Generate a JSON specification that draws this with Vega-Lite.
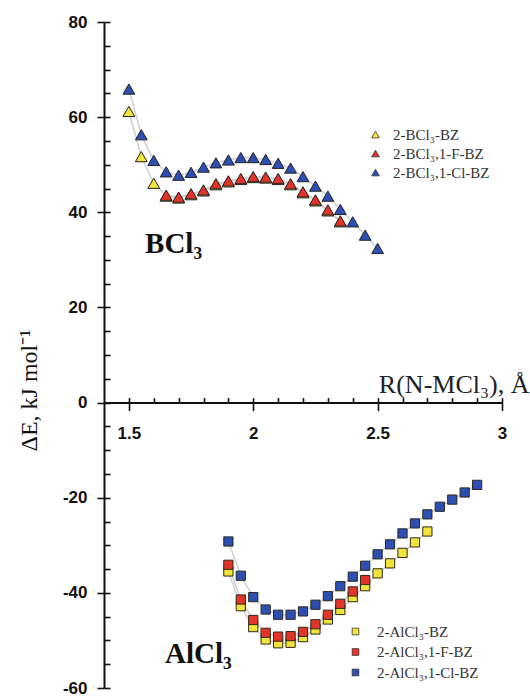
{
  "$schema": "https://vega.github.io/schema/vega-lite/v6.json",
  "autosize": {"type": "none"},
  "padding": {"left": 104, "top": 22, "right": 28, "bottom": 10},
  "width": 398,
  "height": 666,
  "background": "white",
  "config": {"view": {"stroke": null}},
  "datasets": {
    "bcl": [
      {"s": "2-BCl₃-BZ", "x": 1.5, "y": 61.2}, {"s": "2-BCl₃-BZ", "x": 1.55, "y": 51.7}, {"s": "2-BCl₃-BZ", "x": 1.6, "y": 46.1},
      {"s": "2-BCl₃-BZ", "x": 1.65, "y": 43.4}, {"s": "2-BCl₃-BZ", "x": 1.7, "y": 43.0}, {"s": "2-BCl₃-BZ", "x": 1.75, "y": 43.7},
      {"s": "2-BCl₃-BZ", "x": 1.8, "y": 44.5}, {"s": "2-BCl₃-BZ", "x": 1.85, "y": 45.8}, {"s": "2-BCl₃-BZ", "x": 1.9, "y": 46.4},
      {"s": "2-BCl₃-BZ", "x": 1.95, "y": 46.9}, {"s": "2-BCl₃-BZ", "x": 2.0, "y": 47.3}, {"s": "2-BCl₃-BZ", "x": 2.05, "y": 47.2},
      {"s": "2-BCl₃-BZ", "x": 2.1, "y": 46.9}, {"s": "2-BCl₃-BZ", "x": 2.15, "y": 45.8}, {"s": "2-BCl₃-BZ", "x": 2.2, "y": 44.1},
      {"s": "2-BCl₃-BZ", "x": 2.25, "y": 42.4}, {"s": "2-BCl₃-BZ", "x": 2.3, "y": 40.3}, {"s": "2-BCl₃-BZ", "x": 2.35, "y": 38.0},
      {"s": "2-BCl₃,1-F-BZ", "x": 1.65, "y": 43.6}, {"s": "2-BCl₃,1-F-BZ", "x": 1.7, "y": 43.2}, {"s": "2-BCl₃,1-F-BZ", "x": 1.75, "y": 43.9},
      {"s": "2-BCl₃,1-F-BZ", "x": 1.8, "y": 44.7}, {"s": "2-BCl₃,1-F-BZ", "x": 1.85, "y": 46.0}, {"s": "2-BCl₃,1-F-BZ", "x": 1.9, "y": 46.6},
      {"s": "2-BCl₃,1-F-BZ", "x": 1.95, "y": 47.1}, {"s": "2-BCl₃,1-F-BZ", "x": 2.0, "y": 47.5}, {"s": "2-BCl₃,1-F-BZ", "x": 2.05, "y": 47.4},
      {"s": "2-BCl₃,1-F-BZ", "x": 2.1, "y": 47.1}, {"s": "2-BCl₃,1-F-BZ", "x": 2.15, "y": 46.0}, {"s": "2-BCl₃,1-F-BZ", "x": 2.2, "y": 44.3},
      {"s": "2-BCl₃,1-F-BZ", "x": 2.25, "y": 42.6}, {"s": "2-BCl₃,1-F-BZ", "x": 2.3, "y": 40.5}, {"s": "2-BCl₃,1-F-BZ", "x": 2.35, "y": 38.2},
      {"s": "2-BCl₃,1-Cl-BZ", "x": 1.5, "y": 65.9}, {"s": "2-BCl₃,1-Cl-BZ", "x": 1.55, "y": 56.3}, {"s": "2-BCl₃,1-Cl-BZ", "x": 1.6, "y": 50.9},
      {"s": "2-BCl₃,1-Cl-BZ", "x": 1.65, "y": 48.5}, {"s": "2-BCl₃,1-Cl-BZ", "x": 1.7, "y": 47.8}, {"s": "2-BCl₃,1-Cl-BZ", "x": 1.75, "y": 48.4},
      {"s": "2-BCl₃,1-Cl-BZ", "x": 1.8, "y": 49.5}, {"s": "2-BCl₃,1-Cl-BZ", "x": 1.85, "y": 50.4}, {"s": "2-BCl₃,1-Cl-BZ", "x": 1.9, "y": 51.0},
      {"s": "2-BCl₃,1-Cl-BZ", "x": 1.95, "y": 51.5}, {"s": "2-BCl₃,1-Cl-BZ", "x": 2.0, "y": 51.5}, {"s": "2-BCl₃,1-Cl-BZ", "x": 2.05, "y": 51.1},
      {"s": "2-BCl₃,1-Cl-BZ", "x": 2.1, "y": 50.3}, {"s": "2-BCl₃,1-Cl-BZ", "x": 2.15, "y": 49.3}, {"s": "2-BCl₃,1-Cl-BZ", "x": 2.2, "y": 47.5},
      {"s": "2-BCl₃,1-Cl-BZ", "x": 2.25, "y": 45.5}, {"s": "2-BCl₃,1-Cl-BZ", "x": 2.3, "y": 43.4}, {"s": "2-BCl₃,1-Cl-BZ", "x": 2.35, "y": 40.6},
      {"s": "2-BCl₃,1-Cl-BZ", "x": 2.4, "y": 38.0}, {"s": "2-BCl₃,1-Cl-BZ", "x": 2.45, "y": 35.2}, {"s": "2-BCl₃,1-Cl-BZ", "x": 2.5, "y": 32.4}
    ],
    "alcl": [
      {"s": "2-AlCl₃-BZ", "x": 1.9, "y": -35.5}, {"s": "2-AlCl₃-BZ", "x": 1.95, "y": -42.8}, {"s": "2-AlCl₃-BZ", "x": 2.0, "y": -47.2},
      {"s": "2-AlCl₃-BZ", "x": 2.05, "y": -49.8}, {"s": "2-AlCl₃-BZ", "x": 2.1, "y": -50.6}, {"s": "2-AlCl₃-BZ", "x": 2.15, "y": -50.5},
      {"s": "2-AlCl₃-BZ", "x": 2.2, "y": -49.3}, {"s": "2-AlCl₃-BZ", "x": 2.25, "y": -47.7}, {"s": "2-AlCl₃-BZ", "x": 2.3, "y": -45.6},
      {"s": "2-AlCl₃-BZ", "x": 2.35, "y": -43.6}, {"s": "2-AlCl₃-BZ", "x": 2.4, "y": -40.9}, {"s": "2-AlCl₃-BZ", "x": 2.45, "y": -38.6},
      {"s": "2-AlCl₃-BZ", "x": 2.5, "y": -35.9}, {"s": "2-AlCl₃-BZ", "x": 2.55, "y": -33.8}, {"s": "2-AlCl₃-BZ", "x": 2.6, "y": -31.6},
      {"s": "2-AlCl₃-BZ", "x": 2.65, "y": -29.4}, {"s": "2-AlCl₃-BZ", "x": 2.7, "y": -27.1},
      {"s": "2-AlCl₃,1-F-BZ", "x": 1.9, "y": -34.1}, {"s": "2-AlCl₃,1-F-BZ", "x": 1.95, "y": -41.4}, {"s": "2-AlCl₃,1-F-BZ", "x": 2.0, "y": -45.7},
      {"s": "2-AlCl₃,1-F-BZ", "x": 2.05, "y": -48.4}, {"s": "2-AlCl₃,1-F-BZ", "x": 2.1, "y": -49.2}, {"s": "2-AlCl₃,1-F-BZ", "x": 2.15, "y": -49.1},
      {"s": "2-AlCl₃,1-F-BZ", "x": 2.2, "y": -48.2}, {"s": "2-AlCl₃,1-F-BZ", "x": 2.25, "y": -46.6}, {"s": "2-AlCl₃,1-F-BZ", "x": 2.3, "y": -44.6},
      {"s": "2-AlCl₃,1-F-BZ", "x": 2.35, "y": -42.3}, {"s": "2-AlCl₃,1-F-BZ", "x": 2.4, "y": -39.7}, {"s": "2-AlCl₃,1-F-BZ", "x": 2.45, "y": -37.3},
      {"s": "2-AlCl₃,1-Cl-BZ", "x": 1.9, "y": -29.2}, {"s": "2-AlCl₃,1-Cl-BZ", "x": 1.95, "y": -36.4}, {"s": "2-AlCl₃,1-Cl-BZ", "x": 2.0, "y": -40.9},
      {"s": "2-AlCl₃,1-Cl-BZ", "x": 2.05, "y": -43.5}, {"s": "2-AlCl₃,1-Cl-BZ", "x": 2.1, "y": -44.6}, {"s": "2-AlCl₃,1-Cl-BZ", "x": 2.15, "y": -44.6},
      {"s": "2-AlCl₃,1-Cl-BZ", "x": 2.2, "y": -43.9}, {"s": "2-AlCl₃,1-Cl-BZ", "x": 2.25, "y": -42.5}, {"s": "2-AlCl₃,1-Cl-BZ", "x": 2.3, "y": -40.7},
      {"s": "2-AlCl₃,1-Cl-BZ", "x": 2.35, "y": -38.6}, {"s": "2-AlCl₃,1-Cl-BZ", "x": 2.4, "y": -36.6}, {"s": "2-AlCl₃,1-Cl-BZ", "x": 2.45, "y": -34.3},
      {"s": "2-AlCl₃,1-Cl-BZ", "x": 2.5, "y": -31.9}, {"s": "2-AlCl₃,1-Cl-BZ", "x": 2.55, "y": -29.8}, {"s": "2-AlCl₃,1-Cl-BZ", "x": 2.6, "y": -27.5},
      {"s": "2-AlCl₃,1-Cl-BZ", "x": 2.65, "y": -25.4}, {"s": "2-AlCl₃,1-Cl-BZ", "x": 2.7, "y": -23.5}, {"s": "2-AlCl₃,1-Cl-BZ", "x": 2.75, "y": -21.9},
      {"s": "2-AlCl₃,1-Cl-BZ", "x": 2.8, "y": -20.4}, {"s": "2-AlCl₃,1-Cl-BZ", "x": 2.85, "y": -18.9}, {"s": "2-AlCl₃,1-Cl-BZ", "x": 2.9, "y": -17.3}
    ],
    "tags": [
      {"t": "BCl₃", "x": 1.565, "y": 31.4},
      {"t": "AlCl₃", "x": 1.645, "y": -54.7}
    ],
    "xtitle": [
      {"t": "R(N-MCl₃), Å", "x": 2.505, "y": 2.0}
    ]
  },
  "layer": [
    {
      "data": {"name": "bcl"},
      "mark": {"type": "line", "color": "#cfcfcf", "strokeWidth": 1.5},
      "encoding": {
        "detail": {"field": "s"},
        "x": {
          "field": "x", "type": "quantitative",
          "scale": {"domain": [1.4, 3.0], "nice": false, "zero": false},
          "axis": {
            "orient": "bottom",
            "offset": -285.4,
            "title": null,
            "values": [1.5, 2, 2.5, 3],
            "labelExpr": "'' + datum.value",
            "tickSize": 8,
            "tickWidth": 1.6,
            "tickColor": "#111",
            "domainColor": "#111",
            "domainWidth": 2,
            "labelFont": "Liberation Sans",
            "labelFontWeight": "bold",
            "labelFontSize": 17,
            "labelColor": "#111",
            "labelPadding": 15,
            "labelFlush": false,
            "labelOverlap": false,
            "grid": false
          }
        },
        "y": {
          "field": "y", "type": "quantitative",
          "scale": {"domain": [-60, 80], "nice": false, "zero": false},
          "axis": {
            "orient": "left",
            "title": "ΔE, kJ mol⁻¹",
            "titleFont": "Liberation Serif",
            "titleFontWeight": "normal",
            "titleFontSize": 24,
            "titleColor": "#111",
            "titleAngle": 270,
            "titleX": -75,
            "titleY": 368,
            "titleAlign": "center",
            "titleBaseline": "middle",
            "values": [-60, -40, -20, 0, 20, 40, 60, 80],
            "labelExpr": "'' + datum.value",
            "tickSize": 7,
            "tickWidth": 1.6,
            "tickColor": "#111",
            "domainColor": "#111",
            "domainWidth": 2,
            "labelFont": "Liberation Sans",
            "labelFontWeight": "bold",
            "labelFontSize": 17,
            "labelColor": "#111",
            "labelPadding": 10,
            "labelOverlap": false,
            "grid": false
          }
        }
      }
    },
    {
      "data": {"name": "alcl"},
      "mark": {"type": "line", "color": "#cfcfcf", "strokeWidth": 1.5},
      "encoding": {
        "detail": {"field": "s"},
        "x": {
          "field": "x", "type": "quantitative",
          "axis": {
            "orient": "top",
            "offset": -380.6,
            "title": null,
            "values": [1.5, 1.6, 1.7, 1.8, 1.9, 2, 2.1, 2.2, 2.3, 2.4, 2.5, 2.6, 2.7, 2.8, 2.9, 3],
            "labels": false,
            "domain": false,
            "tickSize": 5,
            "tickWidth": 1.6,
            "tickColor": "#111",
            "grid": false
          }
        },
        "y": {
          "field": "y", "type": "quantitative",
          "axis": {
            "orient": "right",
            "offset": -398,
            "title": null,
            "values": [-60, -55, -50, -45, -40, -35, -30, -25, -20, -15, -10, -5, 0, 5, 10, 15, 20, 25, 30, 35, 40, 45, 50, 55, 60, 65, 70, 75, 80],
            "labels": false,
            "domain": false,
            "tickSize": 6,
            "tickWidth": 1.6,
            "tickColor": "#111",
            "grid": false
          }
        }
      }
    },
    {
      "data": {"name": "bcl"},
      "mark": {"type": "point", "shape": "triangle-up", "filled": true, "size": 140, "stroke": "#222", "strokeWidth": 1, "opacity": 1},
      "encoding": {
        "x": {"field": "x", "type": "quantitative", "axis": null},
        "y": {"field": "y", "type": "quantitative", "axis": null},
        "color": {
          "field": "s", "type": "nominal",
          "scale": {"domain": ["2-BCl₃-BZ", "2-BCl₃,1-F-BZ", "2-BCl₃,1-Cl-BZ"], "range": ["#f3e43c", "#e3342a", "#2d4fb4"]},
          "legend": {
            "title": null, "orient": "none", "legendX": 264, "legendY": 105,
            "symbolType": "triangle-up", "symbolSize": 60, "symbolStrokeColor": "#333", "symbolStrokeWidth": 0.8,
            "labelFont": "Liberation Serif", "labelFontSize": 15, "labelColor": "#333",
            "labelOffset": 10, "rowPadding": 3, "padding": 0
          }
        }
      }
    },
    {
      "data": {"name": "alcl"},
      "mark": {"type": "point", "shape": "square", "filled": true, "size": 85, "stroke": "#2a2a1a", "strokeWidth": 1, "opacity": 1},
      "encoding": {
        "x": {"field": "x", "type": "quantitative", "axis": null},
        "y": {"field": "y", "type": "quantitative", "axis": null},
        "color": {
          "field": "s", "type": "nominal",
          "scale": {"domain": ["2-AlCl₃-BZ", "2-AlCl₃,1-F-BZ", "2-AlCl₃,1-Cl-BZ"], "range": ["#f3e43c", "#e3342a", "#2d4fb4"]},
          "legend": {
            "title": null, "orient": "none", "legendX": 244, "legendY": 602,
            "symbolType": "square", "symbolSize": 45, "symbolStrokeColor": "#333", "symbolStrokeWidth": 0.8,
            "labelFont": "Liberation Serif", "labelFontSize": 15, "labelColor": "#333",
            "labelOffset": 14, "rowPadding": 4.5, "padding": 0
          }
        }
      }
    },
    {
      "data": {"name": "tags"},
      "mark": {"type": "text", "font": "Liberation Serif", "fontWeight": "bold", "fontSize": 29, "align": "left", "baseline": "alphabetic", "color": "#111"},
      "encoding": {
        "x": {"field": "x", "type": "quantitative", "axis": null},
        "y": {"field": "y", "type": "quantitative", "axis": null},
        "text": {"field": "t"}
      }
    },
    {
      "data": {"name": "xtitle"},
      "mark": {"type": "text", "font": "Liberation Serif", "fontSize": 26, "align": "left", "baseline": "alphabetic", "color": "#222"},
      "encoding": {
        "x": {"field": "x", "type": "quantitative", "axis": null},
        "y": {"field": "y", "type": "quantitative", "axis": null},
        "text": {"field": "t"}
      }
    }
  ],
  "resolve": {
    "scale": {"color": "independent"},
    "legend": {"color": "independent"},
    "axis": {"x": "independent", "y": "independent"}
  }
}
